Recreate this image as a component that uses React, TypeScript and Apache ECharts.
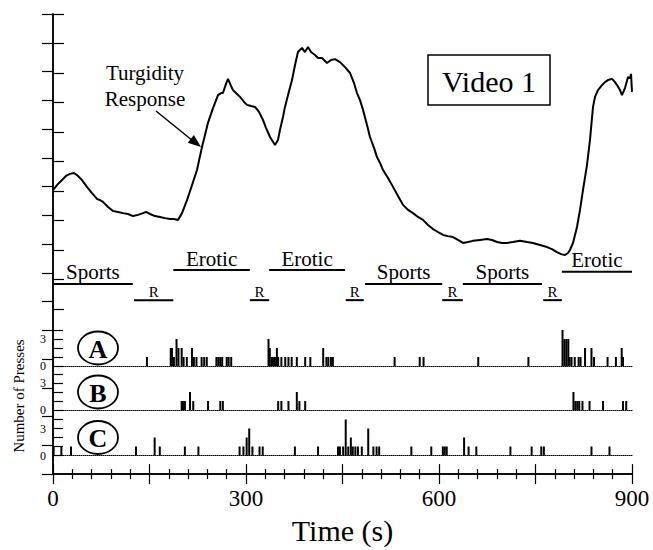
import React, { useEffect, useRef } from "react";
import * as echarts from "echarts";

const FONT = "Liberation Serif";

// Turgidity response trace: [time (s), relative level]
const turgidity: [number, number][] = [
  [0, 4.03], [7.8, 4.24], [14, 4.37], [20.2, 4.51], [26.4, 4.58], [32.6, 4.61], [37.3, 4.54],
  [45.1, 4.37], [52.8, 4.14], [60.6, 3.93], [68.4, 3.73], [73.1, 3.69], [77.7, 3.63], [85.5, 3.46],
  [93.3, 3.32], [101, 3.29], [108.8, 3.25], [116.6, 3.22], [124.4, 3.15], [132.1, 3.19], [139.9, 3.25],
  [144.6, 3.29], [150.8, 3.22], [158.5, 3.15], [166.3, 3.12], [174.1, 3.08], [181.9, 3.05], [188.1, 3.05],
  [194.3, 3.02], [200.5, 3.25], [208.3, 3.69], [216.1, 4.2], [223.8, 4.71], [231.6, 5.49], [236.3, 5.9],
  [240.9, 6.31], [248.7, 6.81], [256.5, 7.25], [261.1, 7.32], [264.2, 7.32], [268.9, 7.63], [272, 7.8],
  [276.7, 7.56], [279.8, 7.42], [286, 7.29], [290.7, 7.19], [296.9, 7.02], [301.6, 6.92], [307.8, 6.88],
  [314, 6.85], [320.2, 6.68], [326.4, 6.41], [331.1, 6.14], [337.3, 5.83], [345.1, 5.56], [349.7, 5.73],
  [352.8, 6.07], [357.5, 6.51], [360.6, 6.85], [365.3, 7.25], [371.5, 7.76], [376.2, 8.27], [380.8, 8.71],
  [387, 8.85], [391.7, 8.71], [396.4, 8.88], [401, 8.71], [407.3, 8.61], [411.9, 8.51], [418.1, 8.51],
  [425.9, 8.34], [432.1, 8.44], [438.3, 8.47], [446.1, 8.37], [453.9, 8.2], [461.7, 8.0], [467.9, 7.66],
  [472.5, 7.32], [477.2, 7.08], [481.9, 6.75], [488.1, 6.24], [492.7, 5.83], [499, 5.46], [503.6, 5.15],
  [508.3, 4.95], [513, 4.71], [520.7, 4.44], [528.5, 4.14], [536.3, 3.83], [544, 3.53], [551.8, 3.36],
  [559.6, 3.25], [567.4, 3.12], [575.1, 3.02], [582.9, 2.85], [590.7, 2.71], [598.4, 2.61], [606.2, 2.51],
  [614, 2.47], [621.8, 2.44], [629.5, 2.34], [637.3, 2.24], [645.1, 2.27], [652.8, 2.31], [663.7, 2.34],
  [674.6, 2.37], [682.4, 2.34], [690.2, 2.27], [697.9, 2.24], [705.7, 2.24], [715, 2.27], [725.9, 2.31],
  [736.8, 2.27], [746.1, 2.24], [757, 2.17], [767.9, 2.1], [775.6, 2.03], [783.4, 1.93], [789.6, 1.86],
  [795.9, 1.83], [800.5, 1.9], [803.6, 2.0], [808.3, 2.24], [814.5, 2.78], [819.2, 3.36], [823.8, 4.03],
  [830, 4.88], [834.7, 5.73], [839.4, 6.85], [842.5, 7.19], [847.1, 7.42], [853.4, 7.59], [858, 7.69],
  [862.7, 7.76], [868.9, 7.8], [873.6, 7.69], [876.7, 7.59], [881.3, 7.42], [884.4, 7.25], [889.1, 7.49],
  [893.8, 7.86], [896.9, 7.83], [898.5, 7.97], [900, 7.36],
];

// Number of presses: [time (s), count]
const pressesA: [number, number][] = [
  [146, 1], [183, 2], [185, 2], [188, 1], [192, 3], [195, 2], [200, 2], [203, 1], [208, 1], [216, 2],
  [219, 1], [223, 1], [231, 1], [235, 1], [239, 1], [254, 1], [257, 1], [260, 1], [263, 1], [270, 1],
  [273, 1], [277, 1],
  [335, 3], [337, 2], [340, 1], [342, 1], [345, 1], [348, 2], [350, 1], [355, 1], [361, 1], [366, 1],
  [371, 1], [379, 1], [392, 1], [400, 1], [420, 2], [425, 1], [428, 1], [432, 1], [435, 1],
  [531, 1], [570, 1], [576, 1], [661, 1], [739, 1],
  [792, 4], [795, 3], [798, 3], [801, 3], [803, 1], [806, 1], [811, 1], [817, 1], [820, 1], [827, 2],
  [837, 2], [841, 1], [862, 1], [875, 1], [884, 2], [886, 1],
];

const pressesB: [number, number][] = [
  [200, 1], [202, 1], [205, 1], [213, 2], [218, 1], [241, 1], [260, 1], [264, 1],
  [350, 1], [355, 1], [366, 1], [379, 2], [383, 1], [392, 1],
  [809, 2], [812, 1], [815, 1], [818, 1], [823, 1], [834, 1], [855, 1], [886, 1], [891, 1],
];

const pressesC: [number, number][] = [
  [1, 1], [13, 1], [28, 1], [129, 1], [158, 2], [166, 1], [205, 1], [226, 1], [290, 1], [296, 1],
  [301, 2], [305, 3], [310, 1], [321, 1], [326, 1], [376, 1], [412, 1], [443, 1], [446, 1], [451, 1],
  [455, 4], [459, 1], [463, 2], [466, 1], [470, 1], [474, 1], [480, 1], [490, 3], [498, 1], [503, 1],
  [507, 1], [557, 1], [588, 1], [606, 1], [609, 1], [612, 1], [639, 2], [646, 1], [658, 1], [711, 1],
  [744, 1], [759, 1], [763, 1], [837, 1], [865, 1],
];

// Video segments
const conditionLabels = ["Sports", "R", "Erotic", "R", "Erotic", "R", "Sports", "R", "Sports", "R", "Erotic"];
const conditionStart = [0, 126, 187, 306, 336, 455, 485, 605, 637, 762, 791];
const conditionEnd = [124, 187, 306, 336, 454, 483, 605, 637, 760, 791, 900];
const conditionLevel = [0.85, 0.3, 1.32, 0.3, 1.32, 0.3, 0.85, 0.3, 0.85, 0.3, 1.26];

const rowLetters = ["A", "B", "C"];
const xTickLabels = [0, 300, 600, 900];
const pressTickLabels = [0, 3];

export default function App() {
  const ref = useRef<HTMLDivElement>(null);

  useEffect(() => {
    const chart = echarts.init(ref.current!, null, { renderer: "svg" });
    const L = 53, R = 21;
    const black = "#000";
    const pressGridTops = [330, 374, 419.5];

    const pressXAxes = [0, 1, 2].map((i) => ({
      type: "value",
      gridIndex: 2 + i,
      min: 0,
      max: 900,
      axisLine: { show: true, onZero: false, lineStyle: { color: black, width: 1, type: "dotted" } },
      axisTick: { show: false },
      axisLabel: { show: false },
      splitLine: { show: false },
    }));
    const pressYAxes = [0, 1, 2].map((i) => ({
      type: "value",
      gridIndex: 2 + i,
      min: 0,
      max: 4,
      interval: 1,
      axisLine: { show: false },
      axisTick: { show: true, inside: true, length: 10, lineStyle: { color: black, width: 1.2 } },
      axisLabel: {
        show: true,
        margin: 7,
        color: black,
        fontFamily: FONT,
        fontSize: 12,
        formatter: (v: number) => (pressTickLabels.includes(v) ? String(v) : ""),
      },
      splitLine: { show: false },
    }));

    const mainTicks = {
      axisTick: { show: true, inside: true, length: 10, lineStyle: { color: black, width: 1.2 } },
      minorTick: { show: true, splitNumber: 5, length: 5, lineStyle: { color: black, width: 1.2 } },
    };

    const option: any = {
      animation: false,
      backgroundColor: "#fff",
      grid: [
        { left: L, right: R, top: 14, bottom: 63 },
        { left: L, right: R, top: 14, height: 295 },
        ...pressGridTops.map((t) => ({ left: L, right: R, top: t, height: 36 })),
      ],
      xAxis: [
        {
          type: "value",
          gridIndex: 0,
          position: "bottom",
          min: 0,
          max: 900,
          interval: 150,
          axisLine: { show: true, lineStyle: { color: black, width: 1.5 } },
          ...mainTicks,
          axisLabel: {
            show: true,
            margin: 13,
            color: black,
            fontFamily: FONT,
            fontSize: 23,
            formatter: (v: number) => (xTickLabels.includes(v) ? String(v) : ""),
          },
          splitLine: { show: false },
          name: "Time (s)",
          nameLocation: "middle",
          nameGap: 38,
          nameTextStyle: { color: black, fontFamily: FONT, fontSize: 30 },
        },
        {
          type: "value",
          gridIndex: 0,
          position: "top",
          min: 0,
          max: 900,
          interval: 150,
          axisLine: { show: true, lineStyle: { color: black, width: 1.5 } },
          ...mainTicks,
          axisLabel: { show: false },
          splitLine: { show: false },
        },
        { type: "value", gridIndex: 1, min: 0, max: 900, show: false },
        ...pressXAxes,
      ],
      yAxis: [
        {
          type: "value",
          gridIndex: 0,
          position: "left",
          min: 0,
          max: 16,
          interval: 1,
          axisLine: { show: true, lineStyle: { color: black, width: 1.5 } },
          axisTick: { show: false },
          axisLabel: { show: false },
          splitLine: { show: false },
        },
        {
          type: "value",
          gridIndex: 0,
          position: "right",
          min: 0,
          max: 16,
          interval: 1,
          axisLine: { show: true, lineStyle: { color: black, width: 1.5 } },
          axisTick: { show: true, inside: true, length: 11, lineStyle: { color: black, width: 1.2 } },
          axisLabel: { show: false },
          splitLine: { show: false },
        },
        {
          type: "value",
          gridIndex: 1,
          position: "left",
          min: 0,
          max: 10,
          interval: 1,
          axisLine: { show: false },
          axisTick: { show: true, inside: true, length: 11, lineStyle: { color: black, width: 1.2 } },
          axisLabel: { show: false },
          splitLine: { show: false },
        },
        ...pressYAxes,
      ],
      series: [
        {
          type: "line",
          name: "Turgidity Response",
          xAxisIndex: 2,
          yAxisIndex: 2,
          data: turgidity,
          showSymbol: false,
          symbol: "none",
          lineStyle: { color: black, width: 2 },
          z: 5,
        },
        {
          type: "custom",
          name: "Segments",
          xAxisIndex: 2,
          yAxisIndex: 2,
          data: conditionStart.map((s, i) => [s, conditionEnd[i], conditionLevel[i], i]),
          encode: { x: [0, 1], y: 2 },
          renderItem: (_params: any, api: any) => {
            const s = api.coord([api.value(0), api.value(2)]);
            const e = api.coord([api.value(1), api.value(2)]);
            const label = conditionLabels[api.value(3)];
            const isR = label === "R";
            return {
              type: "group",
              children: [
                {
                  type: "line",
                  shape: { x1: s[0], y1: s[1], x2: e[0], y2: e[1] },
                  style: { stroke: black, lineWidth: 2 },
                },
                {
                  type: "text",
                  x: (s[0] + e[0]) / 2,
                  y: s[1] - 1,
                  style: {
                    text: label,
                    fontSize: isR ? 15 : 21,
                    fontFamily: FONT,
                    fill: black,
                    align: "center",
                    verticalAlign: "bottom",
                  },
                },
              ],
            };
          },
        },
        ...[pressesA, pressesB, pressesC].map((d, i) => ({
          type: "bar",
          name: "Presses " + rowLetters[i],
          xAxisIndex: 3 + i,
          yAxisIndex: 3 + i,
          data: d,
          barWidth: 2,
          itemStyle: { color: black },
        })),
      ],
      graphic: [
        {
          type: "text",
          x: 145,
          y: 73,
          style: { text: "Turgidity", fontSize: 21, fontFamily: FONT, fill: black, align: "center", verticalAlign: "middle" },
        },
        {
          type: "text",
          x: 145,
          y: 99,
          style: { text: "Response", fontSize: 21, fontFamily: FONT, fill: black, align: "center", verticalAlign: "middle" },
        },
        {
          type: "line",
          shape: { x1: 156, y1: 111, x2: 193, y2: 141 },
          style: { stroke: black, lineWidth: 1.5 },
        },
        {
          type: "polygon",
          shape: { points: [[201, 147], [187.7, 142.8], [193.9, 135]] },
          style: { fill: black },
        },
        {
          type: "rect",
          shape: { x: 428, y: 55, width: 122, height: 50 },
          style: { fill: "#fff", stroke: black, lineWidth: 1.5 },
        },
        {
          type: "text",
          x: 489,
          y: 81,
          style: { text: "Video 1", fontSize: 30, fontFamily: FONT, fill: black, align: "center", verticalAlign: "middle" },
        },
        ...rowLetters.flatMap((letter, i) => {
          const cy = pressGridTops[i] + 36 - 18;
          return [
            {
              type: "ellipse",
              shape: { cx: 98, cy, rx: 20, ry: 16.5 },
              style: { fill: "none", stroke: black, lineWidth: 1.8 },
            },
            {
              type: "text",
              x: 98,
              y: cy + 1,
              style: {
                text: letter,
                fontSize: 26,
                fontWeight: "bold",
                fontFamily: FONT,
                fill: black,
                align: "center",
                verticalAlign: "middle",
              },
            },
          ];
        }),
        {
          type: "text",
          x: 19,
          y: 396,
          rotation: Math.PI / 2,
          style: {
            text: "Number of Presses",
            fontSize: 15,
            fontFamily: FONT,
            fill: black,
            align: "center",
            verticalAlign: "middle",
          },
        },
      ],
    };

    chart.setOption(option);
    return () => chart.dispose();
  }, []);

  return (
    <div
      ref={ref}
      style={{ position: "absolute", left: 0, top: 0, width: 653, height: 550, background: "#fff" }}
    />
  );
}
